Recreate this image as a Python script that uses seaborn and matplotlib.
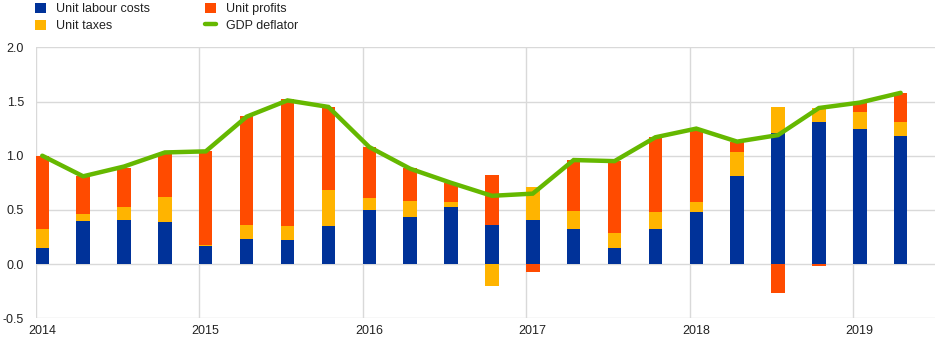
import numpy as np
import pandas as pd
import matplotlib
matplotlib.use("Agg")
import matplotlib.pyplot as plt
import seaborn as sns
from matplotlib.patches import Patch
from matplotlib.lines import Line2D

# Quarterly contributions to the GDP deflator, 2014Q1-2019Q2 (percentage points)
quarters = [str(q) for q in pd.period_range("2014Q1", "2019Q2", freq="Q")]
labour_costs = [0.15, 0.40, 0.41, 0.39, 0.17, 0.235, 0.22, 0.35, 0.50, 0.43, 0.53,
                0.365, 0.41, 0.32, 0.15, 0.32, 0.485, 0.81, 1.21, 1.31, 1.245, 1.18]
unit_taxes = [0.17, 0.06, 0.12, 0.23, 0.01, 0.13, 0.13, 0.33, 0.11, 0.15, 0.04,
              -0.20, 0.30, 0.17, 0.14, 0.16, 0.09, 0.22, 0.24, 0.13, 0.16, 0.13]
unit_profits = [0.68, 0.35, 0.36, 0.40, 0.86, 1.00, 1.17, 0.77, 0.47, 0.31, 0.18,
                0.46, -0.07, 0.47, 0.66, 0.69, 0.66, 0.10, -0.27, -0.015, 0.09, 0.27]
gdp_deflator = [1.00, 0.81, 0.90, 1.03, 1.04, 1.36, 1.51, 1.45, 1.08, 0.88, 0.75,
                0.63, 0.65, 0.96, 0.95, 1.17, 1.25, 1.13, 1.19, 1.44, 1.49, 1.58]
year_labels = ["2014", "2015", "2016", "2017", "2018", "2019"]
y_ticks = [-0.5, 0.0, 0.5, 1.0, 1.5, 2.0]

BLUE, YELLOW, ORANGE, GREEN = "#003299", "#FFB400", "#FF4B00", "#65B800"
GRID = "#d9d9d9"

sns.set_theme(style="white")
plt.rcParams["font.family"] = ["Liberation Sans", "DejaVu Sans"]
plt.rcParams["font.size"] = 9

pos = np.arange(len(quarters), dtype=float)
df = pd.DataFrame({"pos": pos, "quarter": quarters,
                   "labour": labour_costs, "taxes": unit_taxes,
                   "profits": unit_profits, "deflator": gdp_deflator})

fig = plt.figure(figsize=(9.45, 3.45), dpi=100)
ax = fig.add_axes([35.7 / 945, 1 - 318.3 / 345, (935 - 35.7) / 945, (318.3 - 47.3) / 345])

# Stack positive contributions upwards and negative ones downwards
pos_base = np.zeros(len(pos))
neg_base = np.zeros(len(pos))
for col, color in [("labour", BLUE), ("taxes", YELLOW), ("profits", ORANGE)]:
    vals = df[col].to_numpy()
    bottom = np.where(vals >= 0, pos_base, neg_base)
    sns.barplot(data=df, x="pos", y=col, native_scale=True, width=0.33,
                color=color, saturation=1, errorbar=None, bottom=bottom,
                linewidth=0, ax=ax, zorder=2)
    pos_base = pos_base + np.clip(vals, 0, None)
    neg_base = neg_base + np.clip(vals, None, 0)

sns.lineplot(data=df, x="pos", y="deflator", color=GREEN, linewidth=3.2,
             ax=ax, zorder=3, solid_joinstyle="miter")

# Axes styling
ax.set_xlim(-0.16, 21.84)
ax.set_ylim(-0.5, 2.0)
ax.set_xlabel("")
ax.set_ylabel("")
ax.set_yticks(y_ticks)
ax.set_yticklabels([f"{v:.1f}" for v in y_ticks])
ax.set_xticks(pos[::4])
ax.set_xticklabels(year_labels)
ax.set_xticks(pos[::4] - 0.16, minor=True)
ax.tick_params(axis="both", which="both", length=0, colors="#222222", labelsize=9)
ax.tick_params(axis="y", pad=8.5)
ax.tick_params(axis="x", pad=5)
ax.grid(False)
ax.yaxis.grid(True, color=GRID, linewidth=1, zorder=0)
ax.xaxis.grid(True, which="minor", color=GRID, linewidth=1, zorder=0)
ax.set_axisbelow(True)
for s in ax.spines.values():
    s.set_visible(False)

handles = [Patch(facecolor=BLUE, edgecolor="none"),
           Patch(facecolor=YELLOW, edgecolor="none"),
           Patch(facecolor=ORANGE, edgecolor="none"),
           Line2D([0], [0], color=GREEN, linewidth=3.2)]
labels = ["Unit labour costs", "Unit taxes", "Unit profits", "GDP deflator"]
fig.legend(handles, labels, loc="upper left", bbox_to_anchor=(35 / 945, 1 - 2.5 / 345),
           ncol=2, frameon=False, fontsize=9, borderpad=0, borderaxespad=0,
           handlelength=0.88, handleheight=0.88, handletextpad=0.8,
           columnspacing=4.4, labelspacing=0.38, labelcolor="#222222")

fig.savefig("out.png", dpi=100)
